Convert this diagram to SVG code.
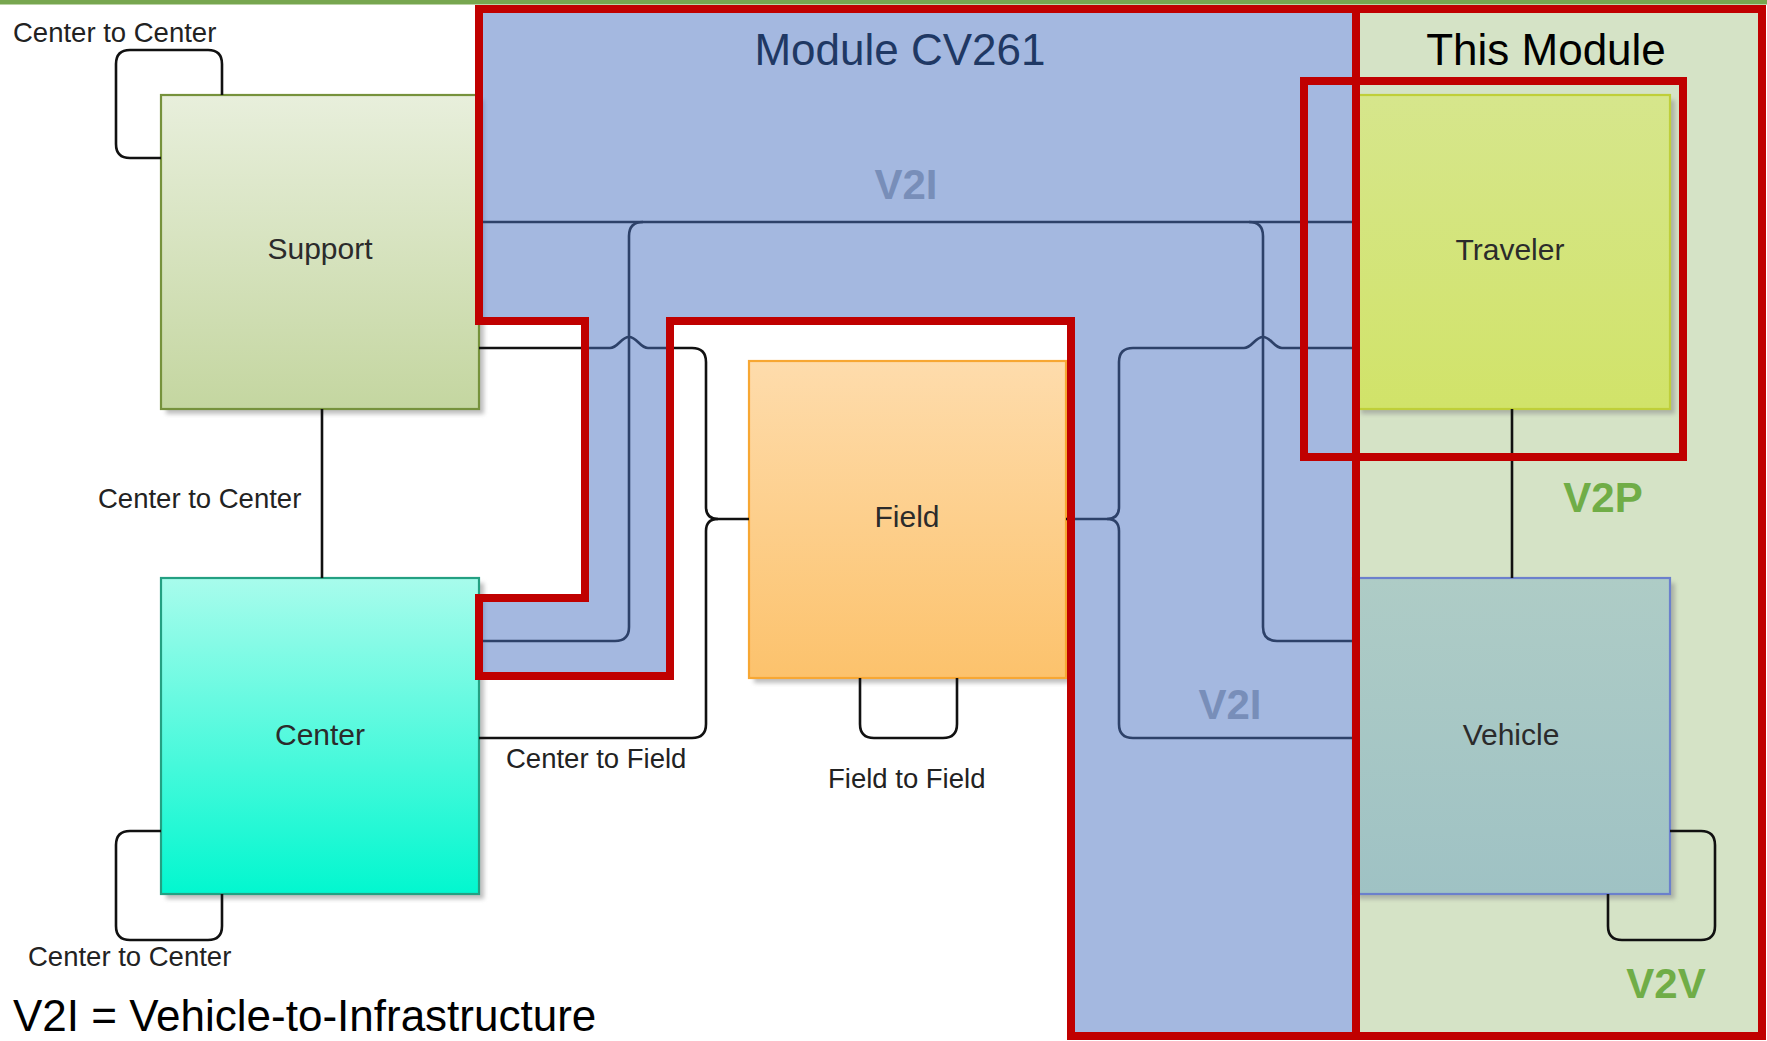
<svg xmlns="http://www.w3.org/2000/svg" width="1767" height="1041" viewBox="0 0 1767 1041">
<defs>
<linearGradient id="gSupport" x1="0" y1="0" x2="0" y2="1"><stop offset="0" stop-color="#e8efdc"/><stop offset="1" stop-color="#c4d6a0"/></linearGradient>
<linearGradient id="gCenter" x1="0" y1="0" x2="0" y2="1"><stop offset="0" stop-color="#a8fcec"/><stop offset="1" stop-color="#02f7cf"/></linearGradient>
<linearGradient id="gField" x1="0" y1="0" x2="0" y2="1"><stop offset="0" stop-color="#fedcac"/><stop offset="1" stop-color="#fcc26c"/></linearGradient>
<linearGradient id="gTraveler" x1="0" y1="0" x2="0" y2="1"><stop offset="0" stop-color="#d6e68c"/><stop offset="1" stop-color="#d1e369"/></linearGradient>
<linearGradient id="gVehicle" x1="0" y1="0" x2="0" y2="1"><stop offset="0" stop-color="#aeccc6"/><stop offset="1" stop-color="#9fc2c4"/></linearGradient>
<filter id="blur" x="-5%" y="-5%" width="110%" height="110%"><feGaussianBlur stdDeviation="2"/></filter>
<style>
.shadow{fill:#8a8a8a;opacity:.55;filter:url(#blur)}
.box{stroke-width:2.2}
.conn{fill:none;stroke:#111111;stroke-width:2.6}
.lbl{font-family:"Liberation Sans",Arial,sans-serif;font-size:27.5px;fill:#222222}
.nlbl{font-family:"Liberation Sans",Arial,sans-serif;font-size:30px;fill:#2b2b2b;text-anchor:middle}
.title{font-family:"Liberation Sans",Arial,sans-serif;font-size:44px;text-anchor:middle}
.tag{font-family:"Liberation Sans",Arial,sans-serif;font-size:42px;font-weight:bold;text-anchor:middle}
.red{fill:none;stroke:#c00000;stroke-width:8}
</style>
</defs>
<rect x="0" y="0" width="1767" height="1041" fill="#ffffff"/>
<rect x="0" y="0" width="1767" height="4.5" fill="#77a64f"/>

<g id="this-module-region">
<rect x="1356" y="9" width="406" height="1027" fill="#d5e3c6"/>
</g>

<g id="node-support">
<rect class="shadow" x="166" y="100" width="318" height="314"/>
<rect class="box" x="161" y="95" width="318" height="314" fill="url(#gSupport)" stroke="#76923c"/>
<text class="nlbl" x="320" y="259">Support</text>
</g>
<g id="node-center">
<rect class="shadow" x="166" y="583" width="318" height="316"/>
<rect class="box" x="161" y="578" width="318" height="316" fill="url(#gCenter)" stroke="#24a082"/>
<text class="nlbl" x="320" y="745">Center</text>
</g>
<g id="node-field">
<rect class="shadow" x="754" y="366" width="317" height="317"/>
<rect class="box" x="749" y="361" width="317" height="317" fill="url(#gField)" stroke="#f7a733"/>
<text class="nlbl" x="907" y="527">Field</text>
</g>
<g id="node-traveler">
<rect class="shadow" x="1361" y="100" width="314" height="314"/>
<rect class="box" x="1356" y="95" width="314" height="314" fill="url(#gTraveler)" stroke="#bfcf39"/>
<text class="nlbl" x="1510" y="260">Traveler</text>
</g>
<g id="node-vehicle">
<rect class="shadow" x="1358" y="583" width="317" height="316"/>
<rect class="box" x="1353" y="578" width="317" height="316" fill="url(#gVehicle)" stroke="#6b80cc"/>
<text class="nlbl" x="1511" y="745">Vehicle</text>
</g>

<g id="connectors">
<path class="conn" d="M222,95 V64 Q222,50 208,50 H130 Q116,50 116,64 V144 Q116,158 130,158 H161"/>
<path class="conn" d="M322,409 V578"/>
<path class="conn" d="M161,831 H130 Q116,831 116,845 V926 Q116,940 130,940 H208 Q222,940 222,926 V894"/>
<path class="conn" d="M860,678 V724 Q860,738 874,738 H943 Q957,738 957,724 V678"/>
<path class="conn" d="M1670,831 H1701 Q1715,831 1715,845 V926 Q1715,940 1701,940 H1622 Q1608,940 1608,926 V894"/>
<path class="conn" d="M1512,409 V578"/>
<path class="conn" d="M479,348 H610 C618,348 621,337 629,337 C637,337 640,348 648,348 H692 Q706,348 706,362 V507 Q706,519 718,519 H749"/>
<path class="conn" d="M479,738 H692 Q706,738 706,724 V531 Q706,519 718,519"/>
<path class="conn" d="M1066,519 H1107 Q1119,519 1119,507 V362 Q1119,348 1133,348 H1244 C1252,348 1255,337 1263,337 C1271,337 1274,348 1282,348 H1356"/>
<path class="conn" d="M1107,519 Q1119,519 1119,531 V724 Q1119,738 1133,738 H1356"/>
<path class="conn" d="M479,222 H1356"/>
<path class="conn" d="M479,641 H615 Q629,641 629,627 V236 Q629,222 643,222"/>
<path class="conn" d="M1249,222 Q1263,222 1263,236 V627 Q1263,641 1277,641 H1356"/>
<text class="lbl" x="13" y="42">Center to Center</text>
<text class="lbl" x="98" y="508">Center to Center</text>
<text class="lbl" x="28" y="966">Center to Center</text>
<text class="lbl" x="506" y="768">Center to Field</text>
<text class="lbl" x="828" y="788">Field to Field</text>
</g>

<g id="module-cv261">
<path d="M479,9 H1356 V1036 H1071 V321 H670 V676 H479 V598 H585 V321 H479 Z" fill="#4971c1" fill-opacity="0.5"/>
<path class="red" d="M479,9 H1356 V1036 H1071 V321 H670 V676 H479 V598 H585 V321 H479 Z"/>
<text class="title" x="900" y="65" fill="#1f3864">Module CV261</text>
<text class="tag" x="906" y="199" fill="#788eb9">V2I</text>
<text class="tag" x="1230" y="719" fill="#788eb9">V2I</text>
</g>

<g id="this-module">
<rect class="red" x="1356" y="9" width="406" height="1027"/>
<rect class="red" x="1304" y="81" width="379" height="376"/>
<text class="title" x="1546" y="65" fill="#000000">This Module</text>
<text class="tag" x="1603" y="512" fill="#70ad47">V2P</text>
<text class="tag" x="1666" y="998" fill="#70ad47">V2V</text>
</g>

<text x="13" y="1031" font-family="'Liberation Sans',Arial,sans-serif" font-size="44" fill="#000000">V2I = Vehicle-to-Infrastructure</text>
</svg>
